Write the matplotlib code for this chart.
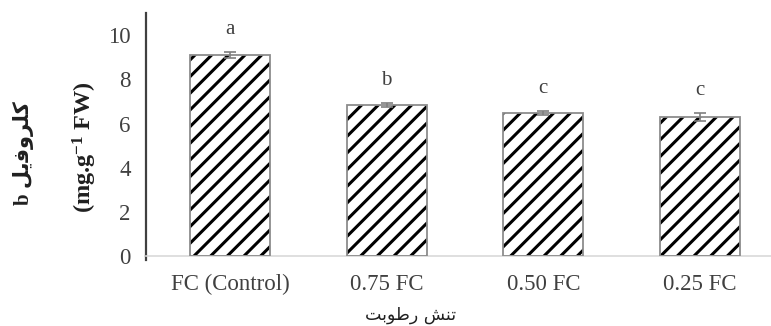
import numpy as np
import matplotlib
matplotlib.use('Agg')
import matplotlib.pyplot as plt

# Chlorophyll b under moisture stress levels
treatments = ['FC (Control)', '0.75 FC', '0.50 FC', '0.25 FC']
chl_b = [9.09, 6.83, 6.47, 6.29]
chl_b_se = [0.14, 0.09, 0.09, 0.18]
groups = ['a', 'b', 'c', 'c']

# Persian labels written in shaped (presentation) forms, visual order
xlabel_fa = '\uFE96\uFE91\uFEEE\uFEC3\uFEAD \uFEB6\uFEE8\uFE97'
ylabel_fa = 'b \uFEDE\uFBFE\uFED3\uFEED\uFEAE\uFEE0\uFB90'
ylabel_unit = '(mg.g$^{-1}$ FW)'

plt.rcParams['font.family'] = ['Liberation Serif', 'DejaVu Sans']
plt.rcParams['mathtext.fontset'] = 'custom'
plt.rcParams['mathtext.rm'] = 'Liberation Serif:bold'
plt.rcParams['mathtext.it'] = 'Liberation Serif:italic:bold'
plt.rcParams['hatch.linewidth'] = 2.2

fig = plt.figure(figsize=(7.71, 3.26), dpi=100)
ax = fig.add_axes([0.1894, 0.2147, 0.8106, 0.745])

x = np.arange(len(treatments))
width = 0.51

# hatched fill, then grey outline on top
ax.bar(x, chl_b, width, color='white', edgecolor='black', hatch='//', linewidth=0, zorder=2)
ax.bar(x, chl_b, width, fill=False, edgecolor='#8c8c8c', linewidth=1.3, zorder=3)
ax.errorbar(x, chl_b, yerr=chl_b_se, fmt='none', ecolor='#7f7f7f',
            elinewidth=1.2, capsize=4.5, capthick=1.2, zorder=4)

for xi, v, e, g in zip(x, chl_b, chl_b_se, groups):
    ax.annotate(g, (xi, v + e), xytext=(0, 16), textcoords='offset points',
                ha='center', va='center', fontsize=15, color='#404040')

ax.set_xlim(-0.536, 3.453)
ax.set_ylim(0, 11)
ax.set_yticks(range(0, 11, 2))
ax.set_xticks(x)
ax.set_xticklabels(treatments)
ax.tick_params(axis='both', length=0, labelsize=16.5, colors='#404040')
ax.tick_params(axis='y', pad=11)
ax.tick_params(axis='x', pad=13)

for side in ['top', 'right']:
    ax.spines[side].set_visible(False)
ax.spines['left'].set_color('#404040')
ax.spines['left'].set_linewidth(1.6)
ax.spines['bottom'].set_color('#d9d9d9')
ax.spines['bottom'].set_linewidth(1.2)
# small stub of the y axis below zero
ax.plot([0, 0], [0, -0.18], transform=ax.get_yaxis_transform(),
        color='#404040', lw=1.6, clip_on=False)

fig.text(0.532, 0.034, xlabel_fa, ha='center', va='center', fontsize=12.5,
         family=['DejaVu Sans'], color='#202020')
fig.text(0.030, 0.531, ylabel_fa, rotation=90, ha='center', va='center',
         fontsize=15, fontweight='bold', color='#202020')
fig.text(0.110, 0.55, ylabel_unit, rotation=90, ha='center', va='center',
         fontsize=17.5, fontweight='bold', color='#202020')

fig.savefig('out.png', dpi=100)
